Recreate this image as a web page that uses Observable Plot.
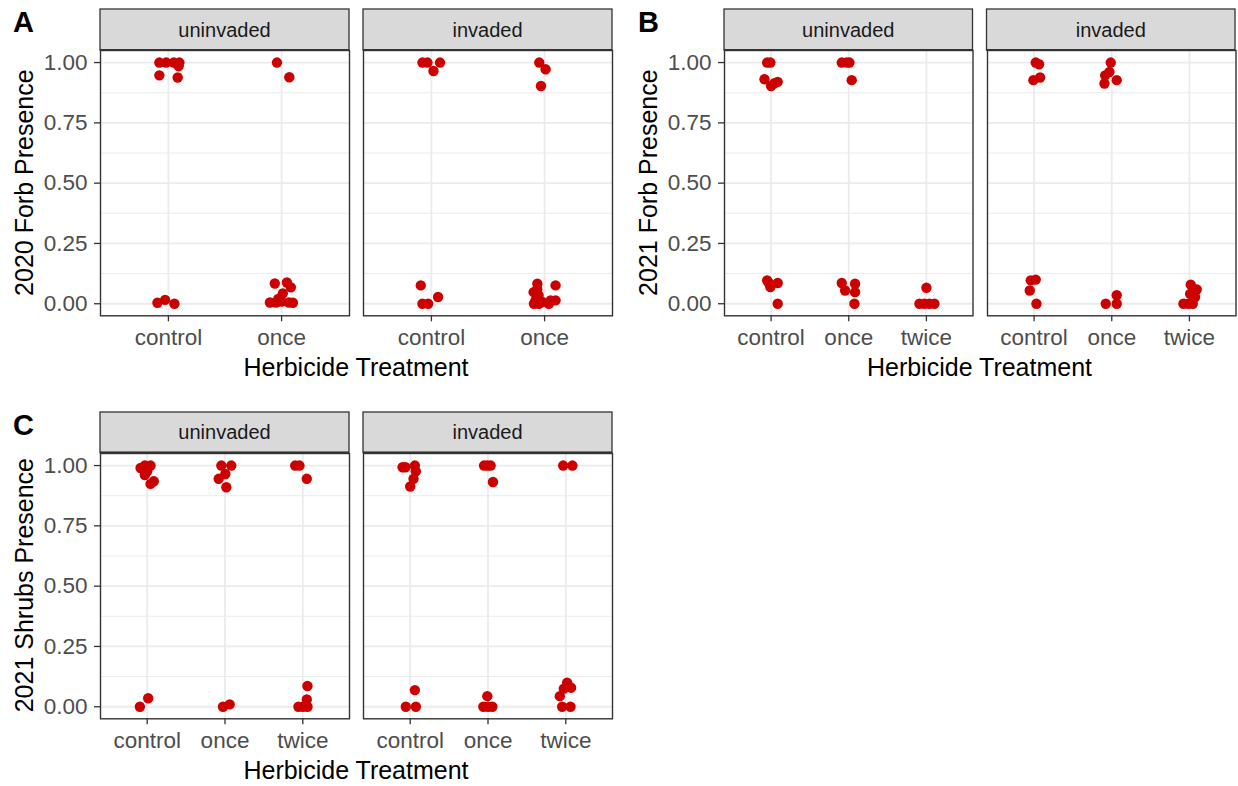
<!DOCTYPE html>
<html><head><meta charset="utf-8">
<script src="https://cdn.jsdelivr.net/npm/d3@7"></script>
<script src="https://cdn.jsdelivr.net/npm/@observablehq/plot@0.6"></script>
<style>
body{margin:0;background:#fff;}
#root{position:relative;width:1238px;height:786px;overflow:hidden;font-family:"Liberation Sans",Arial,sans-serif;background:#fff;}
</style></head><body><div id="root"></div>
<script>
// categories
const treatments2 = ["control", "once"];
const treatments3 = ["control", "once", "twice"];
const invasion = ["uninvaded", "invaded"];
const yTicks = [0, 0.25, 0.5, 0.75, 1];
const yMinor = [0.125, 0.375, 0.625, 0.875];

// points: [treatment, horizontal jitter (category units), presence (jittered)]
const A_uninvaded = [
  ["control",-0.08,1.0],["control",-0.02,1.0],["control",0.047,1.0],["control",0.097,1.0],["control",0.09,0.985],
  ["control",-0.08,0.947],["control",0.082,0.938],["control",-0.097,0.004],["control",-0.029,0.016],["control",0.053,0.0],
  ["once",-0.041,1.0],["once",0.068,0.939],["once",-0.06,0.084],["once",0.047,0.088],["once",0.082,0.068],
  ["once",0.011,0.043],["once",-0.103,0.005],["once",-0.05,0.005],["once",0,0.009],["once",0.065,0.005],
  ["once",0.1,0.004],["once",-0.03,0.02]
];
const A_invaded = [
  ["control",-0.079,1.0],["control",-0.035,1.0],["control",0.018,0.965],["control",0.076,1.0],
  ["control",-0.094,0.076],["control",-0.079,0],["control",-0.029,0],["control",0.059,0.028],
  ["once",-0.047,1.0],["once",0.009,0.972],["once",-0.032,0.903],["once",-0.064,0.083],["once",0.097,0.076],
  ["once",-0.097,0.048],["once",-0.053,0.034],["once",-0.08,0.014],["once",-0.02,0.007],["once",0.053,0.014],
  ["once",0.097,0.014],["once",-0.094,0],["once",-0.05,0],["once",0.038,0],["once",-0.065,0.06]
];
const B_uninvaded = [
  ["control",-0.051,1.0],["control",-0.009,1.0],["control",-0.085,0.931],["control",0,0.903],["control",0.085,0.92],
  ["control",0.043,0.914],["control",-0.051,0.097],["control",-0.009,0.069],["control",0.085,0.086],["control",0.085,0],
  ["control",-0.03,0.086],
  ["once",-0.09,1],["once",-0.026,1],["once",0.009,1],["once",0.038,0.927],["once",-0.09,0.086],
  ["once",-0.047,0.055],["once",0.081,0.083],["once",0.081,0.048],["once",0.073,0],
  ["twice",0,0.066],["twice",-0.09,0],["twice",-0.026,0],["twice",0.038,0],["twice",0.103,0]
];
const B_invaded = [
  ["control",0.021,1.0],["control",0.064,0.993],["control",-0.009,0.927],["control",0.077,0.938],
  ["control",-0.043,0.097],["control",0.021,0.1],["control",-0.056,0.055],["control",0.03,0],
  ["once",-0.013,1.0],["once",-0.03,0.961],["once",-0.085,0.947],["once",-0.094,0.913],["once",0.064,0.927],
  ["once",-0.077,0],["once",0.064,0.035],["once",0.064,0],
  ["twice",0.017,0.079],["twice",0.094,0.059],["twice",0.009,0.041],["twice",-0.077,0],["twice",-0.013,0],
  ["twice",0.043,0],["twice",0.073,0.028]
];
const C_uninvaded = [
  ["control",-0.085,0.99],["control",-0.03,1.0],["control",0.043,1.0],["control",0,0.976],["control",-0.03,0.961],
  ["control",0.085,0.935],["control",0.043,0.924],["control",-0.094,0],["control",0.013,0.035],
  ["once",-0.047,1],["once",0.081,1],["once",0.004,0.965],["once",-0.081,0.945],["once",0.017,0.91],
  ["once",-0.026,0],["once",0.06,0.01],
  ["twice",-0.098,1],["twice",-0.043,1],["twice",0.051,0.945],["twice",0.06,0.086],["twice",-0.056,0],
  ["twice",0.06,0],["twice",0.051,0.03],["twice",0,0]
];
const C_invaded = [
  ["control",-0.098,0.993],["control",-0.06,0.993],["control",0.06,1.0],["control",0.073,0.976],["control",0.043,0.945],
  ["control",0,0.913],["control",-0.056,0],["control",0.06,0.069],["control",0.073,0],
  ["once",-0.051,1],["once",-0.009,1],["once",0.034,1],["once",0.064,0.932],["once",-0.06,0],
  ["once",0,0],["once",0.056,0],["once",-0.009,0.044],
  ["twice",-0.034,1],["twice",0.085,1],["twice",0.017,0.1],["twice",0.068,0.079],["twice",-0.026,0.075],
  ["twice",-0.077,0.044],["twice",-0.047,0],["twice",0.06,0]
];

const xTitle = "Herbicide Treatment";
const panels = [
  {letter:"A", ylabel:"2020 Forb Presence", cats:treatments2, data:[A_uninvaded, A_invaded],
   lefts:[100, 363], width:249, top:50, height:265.3, stripTop:9, letterX:13},
  {letter:"B", ylabel:"2021 Forb Presence", cats:treatments3, data:[B_uninvaded, B_invaded],
   lefts:[724, 986.5], width:248.5, top:50, height:265.3, stripTop:9, letterX:638},
  {letter:"C", ylabel:"2021 Shrubs Presence", cats:treatments3, data:[C_uninvaded, C_invaded],
   lefts:[100, 363], width:249, top:452.5, height:265.3, stripTop:412, letterX:13}
];

const FONT = '"Liberation Sans", Arial, sans-serif';
const root = document.getElementById("root");

function facetPlot(p, k) {
  const isLeft = k === 0;
  const mL = isLeft ? 70 : 3, mR = 3, mT = 3, mB = 45;
  const n = p.cats.length;
  const xt = d3.range(1, n + 1);
  const rows = p.data[k].map(([t, j, v]) => ({x: p.cats.indexOf(t) + 1 + j, y: v}));
  const svg = Plot.plot({
    width: mL + p.width + mR, height: mT + p.height + mB,
    marginLeft: mL, marginRight: mR, marginTop: mT, marginBottom: mB,
    style: {fontFamily: FONT, fontSize: "22.5px", background: "transparent", overflow: "visible"},
    x: {type: "linear", domain: [0.4, n + 0.6], label: null},
    y: {domain: [-0.05, 1.05], label: null, axis: isLeft ? undefined : null},
    marks: [
      Plot.gridY(yMinor, {stroke: "#ebebeb", strokeOpacity: 1, strokeWidth: 1}),
      Plot.gridY(yTicks, {stroke: "#ebebeb", strokeOpacity: 1, strokeWidth: 1.8}),
      Plot.gridX(xt, {stroke: "#ebebeb", strokeOpacity: 1, strokeWidth: 1.8}),
      Plot.dot(rows, {x: "x", y: "y", r: 5.2, fill: "#cd0000"}),
      Plot.frame({stroke: "#333333", strokeWidth: 1.4}),
      Plot.axisX(xt, {tickFormat: i => p.cats[i - 1], tickSize: 6, tickPadding: 7,
        stroke: "#333333", strokeWidth: 1.3, fill: "#4d4d4d", label: null}),
      isLeft ? Plot.axisY(yTicks, {tickFormat: d3.format(".2f"), tickSize: 6, tickPadding: 7,
        stroke: "#333333", strokeWidth: 1.3, fill: "#4d4d4d", label: null}) : null
    ]
  });
  svg.style.position = "absolute";
  svg.style.left = (p.lefts[k] - mL) + "px";
  svg.style.top = (p.top - mT) + "px";
  svg.style.maxWidth = "none";
  root.appendChild(svg);
}

panels.forEach(p => { facetPlot(p, 0); facetPlot(p, 1); });

// overlay: strips, titles, panel letters
const ov = d3.select(root).append("svg")
  .attr("width", 1238).attr("height", 786)
  .style("position", "absolute").style("left", "0px").style("top", "0px")
  .style("font-family", FONT);

panels.forEach(p => {
  const bottom = p.top + p.height;
  p.lefts.forEach((l, k) => {
    ov.append("rect").attr("x", l).attr("y", p.stripTop)
      .attr("width", p.width).attr("height", p.top - p.stripTop)
      .attr("fill", "#d9d9d9").attr("stroke", "#333333").attr("stroke-width", 1.3);
    ov.append("line").attr("x1", l).attr("x2", l + p.width).attr("y1", p.top).attr("y2", p.top)
      .attr("stroke", "#333333").attr("stroke-width", 1.8);
    ov.append("text").attr("x", l + p.width / 2).attr("y", (p.stripTop + p.top) / 2)
      .attr("dy", "0.36em").attr("text-anchor", "middle")
      .attr("font-size", 20).attr("fill", "#1a1a1a").text(invasion[k]);
  });
  const left = p.lefts[0], right = p.lefts[1] + p.width;
  ov.append("text").attr("x", (left + right) / 2).attr("y", bottom + 61)
    .attr("text-anchor", "middle").attr("font-size", 25).attr("fill", "#000").text(xTitle);
  ov.append("text").attr("transform", `translate(${left - 67.5},${(p.top + bottom) / 2}) rotate(-90)`)
    .attr("text-anchor", "middle").attr("font-size", 25).attr("fill", "#000").text(p.ylabel);
  ov.append("text").attr("x", p.letterX).attr("y", p.stripTop + 23)
    .attr("font-size", 29).attr("font-weight", "bold").attr("fill", "#000").text(p.letter);
});
</script></body></html>
